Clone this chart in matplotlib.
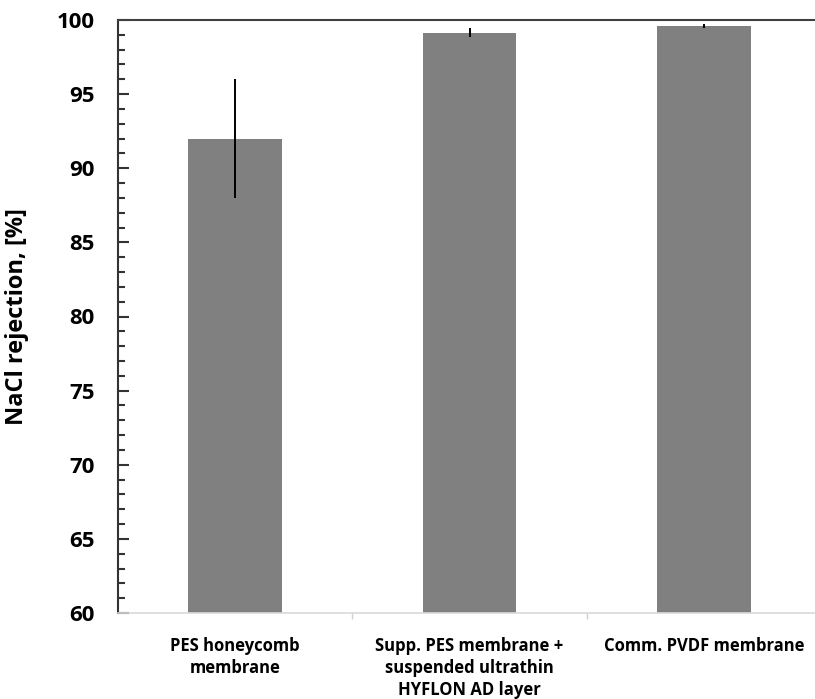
import matplotlib
matplotlib.use("Agg")
import matplotlib.pyplot as plt
from matplotlib.ticker import MultipleLocator, FixedLocator

categories = ["PES honeycomb\nmembrane",
              "Supp. PES membrane +\nsuspended ultrathin\nHYFLON AD layer",
              "Comm. PVDF membrane"]
rejection = [92.0, 99.15, 99.6]
rejection_err = [4.0, 0.28, 0.15]

plt.rcParams['font.family'] = ['Open Sans', 'DejaVu Sans']

fig = plt.figure(figsize=(8.15, 6.99), dpi=100)
ax = fig.add_axes([118 / 815, 1 - 613 / 699, 703 / 815, 593 / 699])

x = list(range(len(categories)))
ax.bar(x, rejection, width=0.4, color="#808080", zorder=2)
ax.errorbar(x, rejection, yerr=rejection_err, fmt="none", ecolor="black",
            elinewidth=1.4, capsize=0, zorder=3)

ax.set_xlim(-0.5, len(categories) - 0.5)
ax.set_ylim(60, 100)

ax.yaxis.set_major_locator(MultipleLocator(5))
ax.yaxis.set_minor_locator(MultipleLocator(1))
ax.tick_params(axis="y", which="major", direction="in", length=8, width=1.5,
               color="#333333", labelsize=16, pad=17)
ax.tick_params(axis="y", which="minor", direction="in", length=5, width=1.5,
               color="#333333")
for lbl in ax.get_yticklabels():
    lbl.set_fontweight("bold")

ax.set_xticks(x)
ax.set_xticklabels(categories, fontsize=12, fontweight="bold", linespacing=1.3)
ax.tick_params(axis="x", which="major", length=0, pad=17)
ax.xaxis.set_minor_locator(FixedLocator([0.5, 1.5]))
ax.tick_params(axis="x", which="minor", direction="out", length=4, width=1,
               color="#d0d0d0")

ax.spines["left"].set_color("#333333")
ax.spines["left"].set_linewidth(1.5)
ax.spines["top"].set_color("#404040")
ax.spines["top"].set_linewidth(1.5)
ax.spines["bottom"].set_color("#d9d9d9")
ax.spines["bottom"].set_linewidth(1.2)
ax.spines["right"].set_visible(False)

ax.set_ylabel("NaCl rejection, [%]", fontsize=17, fontweight="bold", labelpad=20)

fig.savefig("out.png", dpi=100)
